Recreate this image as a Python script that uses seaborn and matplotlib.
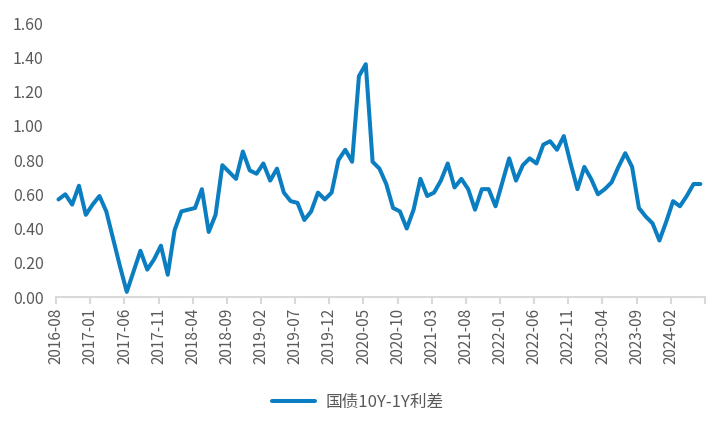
import numpy as np
import pandas as pd
import matplotlib
matplotlib.use("Agg")
import matplotlib.pyplot as plt
import seaborn as sns

sns.set_style("white")
plt.rcParams['font.family'] = ['Noto Sans CJK SC', 'DejaVu Sans']
plt.rcParams['axes.unicode_minus'] = False

# 国债10Y-1Y利差, 月度 2016-08 ~ 2024-06
months = pd.date_range("2016-08-01", "2024-06-01", freq="MS").strftime("%Y-%m").tolist()
spread = [
    0.57, 0.60, 0.54, 0.65, 0.48,
    0.54, 0.59, 0.50, 0.34, 0.18, 0.03, 0.15, 0.27, 0.16, 0.22, 0.30, 0.13,
    0.39, 0.50, 0.51, 0.52, 0.63, 0.38, 0.48, 0.77, 0.73, 0.69, 0.85, 0.74,
    0.72, 0.78, 0.68, 0.75, 0.61, 0.56, 0.55, 0.45, 0.50, 0.61, 0.57, 0.61,
    0.80, 0.86, 0.79, 1.29, 1.36, 0.79, 0.75, 0.66, 0.52, 0.50, 0.40, 0.51,
    0.69, 0.59, 0.61, 0.68, 0.78, 0.64, 0.69, 0.63, 0.51, 0.63, 0.63, 0.53,
    0.67, 0.81, 0.68, 0.77, 0.81, 0.78, 0.89, 0.91, 0.86, 0.94, 0.78, 0.63,
    0.76, 0.69, 0.60, 0.63, 0.67, 0.76, 0.84, 0.76, 0.52, 0.47, 0.43, 0.33,
    0.44, 0.56, 0.53, 0.59, 0.66, 0.66,
]
series_name = "国债10Y-1Y利差"
tick_step = 5
y_ticks = [0.0, 0.2, 0.4, 0.6, 0.8, 1.0, 1.2, 1.4, 1.6]

df = pd.DataFrame({"idx": np.arange(len(months)), "month": months, "value": spread})

LINE_COLOR = "#0B7DC1"
TEXT_COLOR = "#595959"
AXIS_COLOR = "#D9D9D9"

fig = plt.figure(figsize=(7.2, 4.32), dpi=100)
ax = fig.add_axes([0.078, 0.3125, 0.901, 0.634])

sns.lineplot(data=df, x="idx", y="value", ax=ax, color=LINE_COLOR,
             linewidth=2.9, label=series_name)

# category axis: ticks sit slightly before each month's point
off = 0.34
tick_pos = np.arange(0, len(months) + 1, tick_step) - off
tick_lab = [months[i] if i < len(months) else "" for i in range(0, len(months) + 1, tick_step)]
ax.set_xlim(-off, tick_pos[-1])
ax.set_xticks(tick_pos)
ax.set_xticklabels(tick_lab, rotation=90, fontsize=11, color=TEXT_COLOR)

ax.set_ylim(0, 1.6)
ax.set_yticks(y_ticks)
ax.set_yticklabels([f"{v:.2f}" for v in y_ticks], fontsize=11.5, color=TEXT_COLOR)

ax.set_xlabel("")
ax.set_ylabel("")
for s in ["top", "right", "left"]:
    ax.spines[s].set_visible(False)
ax.spines["bottom"].set_color(AXIS_COLOR)
ax.spines["bottom"].set_linewidth(1.5)
ax.tick_params(axis="x", bottom=True, length=5, width=1.5, color=AXIS_COLOR, pad=3)
ax.tick_params(axis="y", left=False, length=0, pad=9)
ax.grid(False)

ax.get_legend().remove()
fig.legend(loc="center", bbox_to_anchor=(0.497, 0.069), frameon=False,
           fontsize=12, handlelength=2.6, handletextpad=0.6, labelcolor=TEXT_COLOR)

fig.savefig("out.png", dpi=100)
